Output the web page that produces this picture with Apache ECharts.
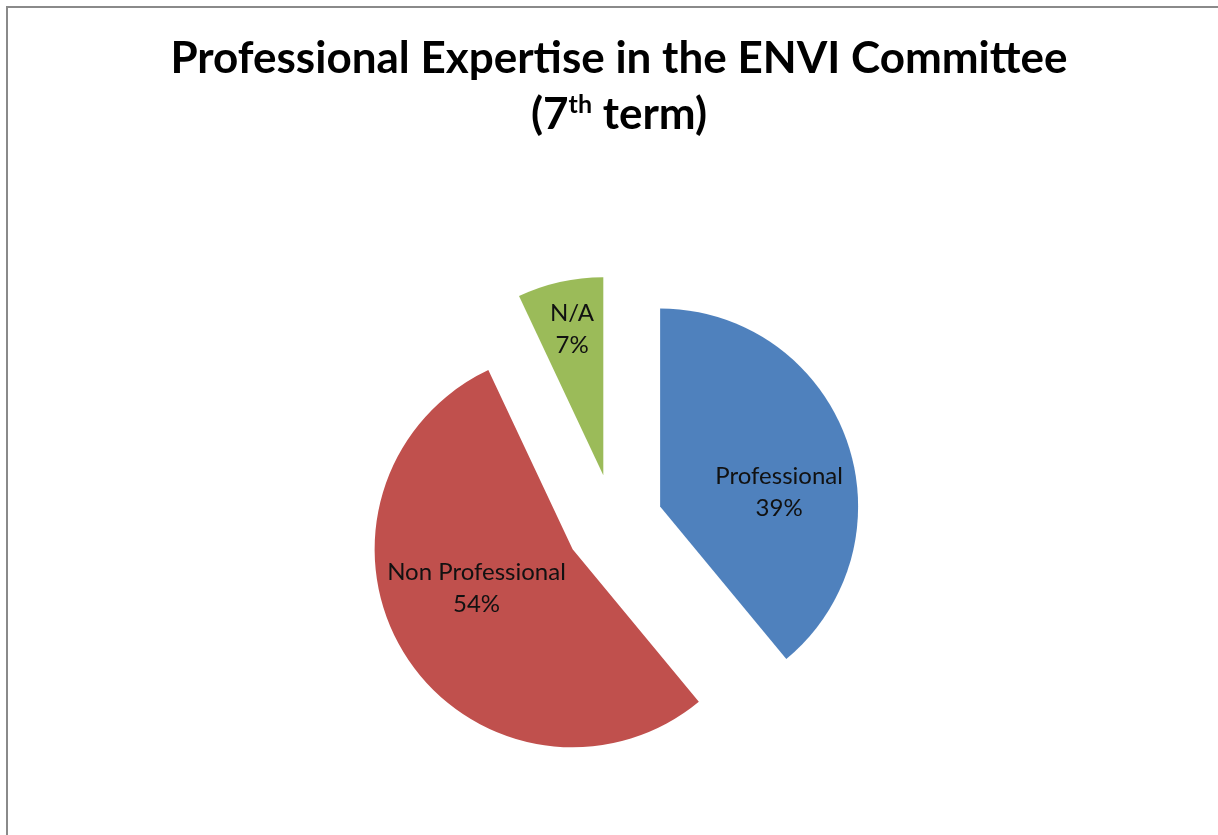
<!DOCTYPE html>
<html>
<head>
<meta charset="utf-8">
<script src="https://cdn.jsdelivr.net/npm/echarts@6/dist/echarts.min.js"></script>
<style>
  html, body { margin: 0; padding: 0; background: #fff; }
  #wrap { position: relative; width: 1218px; height: 835px; }
  #chart { position: absolute; left: 0; top: 0; width: 1218px; height: 835px; }
  #frame {
    position: absolute; left: 6px; top: 6px; right: 0; bottom: 0;
    border-left: 2px solid #8a8a8a; border-top: 2px solid #8a8a8a;
    pointer-events: none;
  }
</style>
</head>
<body>
<div id="wrap">
  <div id="chart"></div>
  <div id="frame"></div>
</div>
<script>
// chart data
const categories = ['Professional', 'Non Professional', 'N/A']
const shares = [39, 54, 7]
const colors = ['#4F81BD', '#C0504D', '#9BBB59']

const chart = echarts.init(document.getElementById('chart'))

// small nudges so the labels sit where Excel put them
const labelNudge = [[23, 20], [-10, -16], [-9, -46]]

const option = {
  animation: false,
  backgroundColor: '#fff',
  title: {
    text: '{t|Professional Expertise in the ENVI Committee}\n{t|(7}{sup|th}{t| term)}',
    left: 614,
    textAlign: 'center',
    top: 26,
    textStyle: {
      rich: {
        t: { fontFamily: 'Lato', fontWeight: 'bold', fontSize: 44, color: '#000', lineHeight: 56 },
        sup: { fontFamily: 'Lato', fontWeight: 'bold', fontSize: 25, color: '#000', lineHeight: 56, verticalAlign: 'top', padding: [5, 0, 0, 0] }
      }
    }
  },
  series: [
    {
      type: 'pie',
      center: [614, 523],
      radius: 198,
      startAngle: 90,
      clockwise: true,
      selectedMode: 'multiple',
      selectedOffset: 49,
      avoidLabelOverlap: false,
      percentPrecision: 0,
      emphasis: { scale: false },
      label: {
        show: true,
        position: 'inside',
        formatter: '{b}\n{d}%',
        fontFamily: 'Lato',
        fontSize: 24,
        lineHeight: 32,
        color: '#111'
      },
      labelLine: { show: false },
      labelLayout: function (params) {
        const n = labelNudge[params.dataIndex]
        return { dx: n[0], dy: n[1] }
      },
      data: categories.map((name, i) => ({
        name: name,
        value: shares[i],
        selected: true,
        itemStyle: { color: colors[i] }
      }))
    }
  ]
}

chart.setOption(option)
</script>
</body>
</html>
